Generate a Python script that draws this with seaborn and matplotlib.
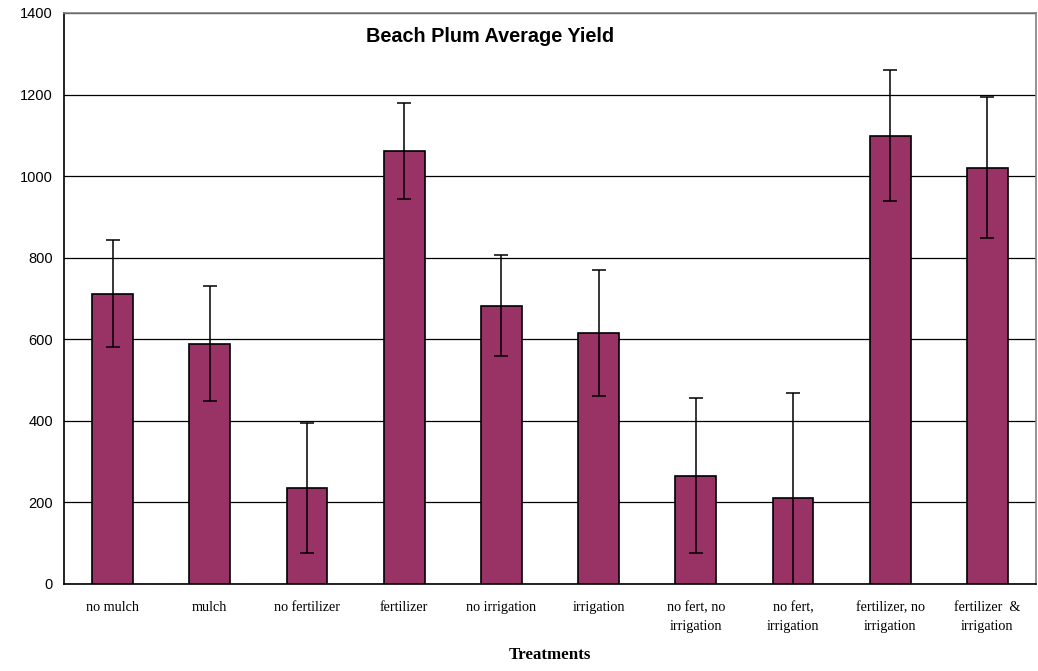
import numpy as np
import matplotlib
matplotlib.use("Agg")
import matplotlib.pyplot as plt
import seaborn as sns

treatments = [
    "no mulch", "mulch", "no fertilizer", "fertilizer", "no irrigation",
    "irrigation", "no fert, no\nirrigation", "no fert,\nirrigation",
    "fertilizer, no\nirrigation", "fertilizer  &\nirrigation",
]
avg_yield = [712, 589, 236, 1062, 682, 616, 265, 211, 1099, 1021]
yield_err = [131, 141, 159, 117, 124, 155, 190, 256, 161, 172]
y_ticks = [0, 200, 400, 600, 800, 1000, 1200, 1400]

sns.set_theme(style="white", rc={"text.color": "black", "axes.labelcolor": "black",
                                 "xtick.color": "black", "ytick.color": "black"})

fig = plt.figure(figsize=(10.38, 6.71), dpi=100)
ax = fig.add_axes([0.0617, 0.1297, 0.9363, 0.851])

sns.barplot(x=treatments, y=avg_yield, color="#993366", saturation=1,
            edgecolor="black", linewidth=1.2, width=0.42, ax=ax, zorder=3)
ax.errorbar(np.arange(len(avg_yield)), avg_yield, yerr=yield_err, fmt="none",
            ecolor="black", elinewidth=1.1, capsize=4.8, capthick=1.1, zorder=4)

ax.set_ylim(0, 1400)
ax.set_xlim(-0.5, len(treatments) - 0.5)
ax.set_yticks(y_ticks)
ax.set_yticklabels([str(t) for t in y_ticks], family="Liberation Sans", fontsize=10.5)
ax.yaxis.grid(True, color="black", linewidth=0.9)
ax.set_axisbelow(True)

ax.set_xticks(np.arange(len(treatments)))
ax.set_xticklabels(treatments, family="Liberation Serif", fontsize=10.2, linespacing=1.6)
ax.set_xticks(np.arange(-0.5, len(treatments)), minor=True)
ax.tick_params(axis="x", which="major", length=0, pad=12.5)
ax.tick_params(axis="x", which="minor", length=5, width=1.2, color="black", direction="out")
ax.tick_params(axis="y", length=5, width=1.2, color="black", direction="out", pad=3)

ax.set_xlabel("Treatments", family="Liberation Serif", fontweight="bold",
              fontsize=12.2, labelpad=10)
ax.set_ylabel("")

for side in ["left", "bottom"]:
    ax.spines[side].set_color("black")
    ax.spines[side].set_linewidth(1.2)
for side in ["top", "right"]:
    ax.spines[side].set_color("#808080")
    ax.spines[side].set_linewidth(1.2)

ax.text(0.311, 0.976, "Beach Plum Average Yield", transform=ax.transAxes,
        family="Liberation Sans", fontweight="bold", fontsize=14.3, va="top", ha="left")

fig.savefig("out.png", dpi=100)
